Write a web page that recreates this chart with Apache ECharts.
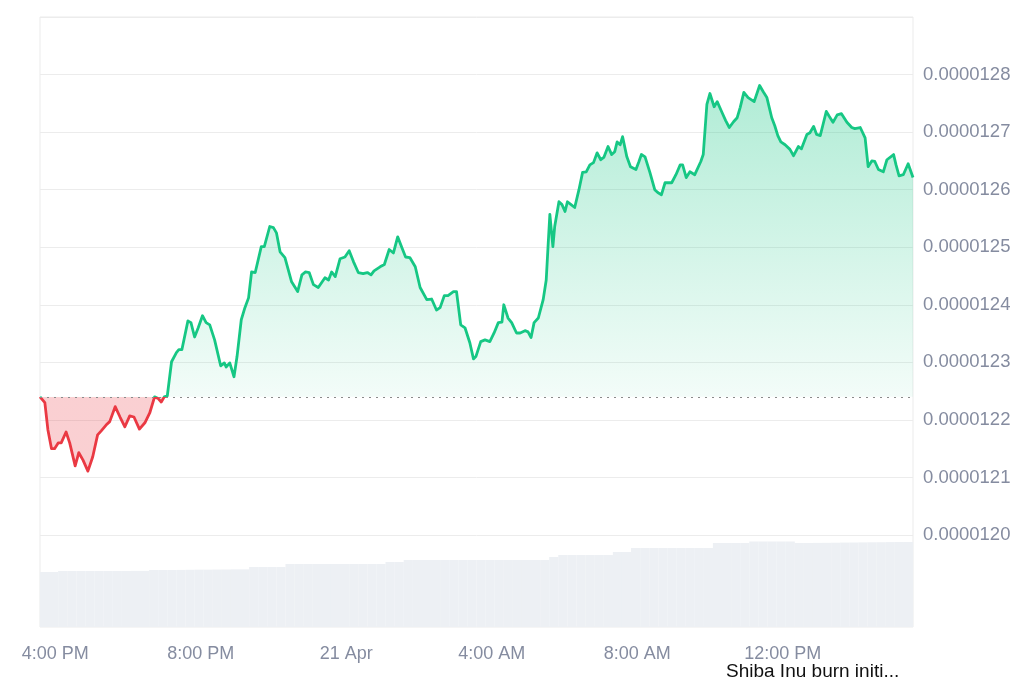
<!DOCTYPE html>
<html><head><meta charset="utf-8">
<script src="https://cdn.jsdelivr.net/npm/echarts@6/dist/echarts.min.js"></script>
<style>html,body{margin:0;padding:0;background:#fff}#c{width:1024px;height:683px}</style>
</head><body><div id="c"></div>
<script>
// ---- data ----
const startTime = '2025-04-20T15:35:00Z';
const endMinutes = 1440;
const minutesFromStart = [
  0,3,8,13,19,24,30,35,43,49,
  58,64,71,79,87,95,101,109,115,124,
  132,140,148,155,164,173,181,189,195,200,
  205,210,217,225,229,234,244,249,255,261,
  268,274,280,288,298,304,307,313,320,325,
  332,338,344,349,355,365,370,379,385,390,
  396,404,415,425,432,438,444,451,459,470,
  476,481,487,495,503,510,517,525,533,540,
  546,551,561,568,576,583,590,597,603,610,
  619,627,638,646,654,660,667,673,682,687,
  694,701,709,715,719,727,734,742,749,756,
  762,765,772,778,786,792,800,805,810,815,
  822,830,835,838,841,846,849,856,861,866,
  870,876,882,889,895,901,907,913,919,925,
  930,937,943,948,952,957,961,968,974,983,
  988,992,998,1006,1014,1019,1025,1031,1042,1049,
  1056,1060,1066,1072,1080,1090,1094,1100,1105,1112,
  1117,1125,1131,1137,1144,1150,1155,1161,1168,1178,
  1187,1193,1199,1207,1212,1217,1222,1229,1237,1243,
  1251,1256,1265,1270,1276,1281,1287,1292,1297,1302,
  1308,1315,1322,1331,1339,1344,1353,1361,1366,1372,
  1377,1383,1391,1397,1408,1412,1417,1424,1432,1440
];
const prices = [
  1.2240e-5,1.2238e-5,1.2230e-5,1.2183e-5,1.2150e-5,1.2150e-5,1.2160e-5,1.2160e-5,1.2179e-5,1.2160e-5,
  1.2120e-5,1.2143e-5,1.2130e-5,1.2111e-5,1.2136e-5,1.2174e-5,1.2181e-5,1.2191e-5,1.2197e-5,1.2223e-5,
  1.2205e-5,1.2188e-5,1.2207e-5,1.2205e-5,1.2184e-5,1.2195e-5,1.2212e-5,1.2240e-5,1.2237e-5,1.2231e-5,
  1.2240e-5,1.2242e-5,1.2301e-5,1.2317e-5,1.2322e-5,1.2322e-5,1.2372e-5,1.2369e-5,1.2344e-5,1.2360e-5,
  1.2381e-5,1.2369e-5,1.2365e-5,1.2339e-5,1.2294e-5,1.2299e-5,1.2292e-5,1.2299e-5,1.2275e-5,1.2310e-5,
  1.2374e-5,1.2395e-5,1.2412e-5,1.2457e-5,1.2456e-5,1.2501e-5,1.2501e-5,1.2536e-5,1.2534e-5,1.2525e-5,
  1.2492e-5,1.2482e-5,1.2440e-5,1.2423e-5,1.2452e-5,1.2457e-5,1.2456e-5,1.2435e-5,1.2430e-5,1.2447e-5,
  1.2443e-5,1.2457e-5,1.2449e-5,1.2480e-5,1.2483e-5,1.2494e-5,1.2475e-5,1.2456e-5,1.2454e-5,1.2456e-5,
  1.2452e-5,1.2459e-5,1.2466e-5,1.2470e-5,1.2496e-5,1.2490e-5,1.2518e-5,1.2499e-5,1.2483e-5,1.2482e-5,
  1.2466e-5,1.2430e-5,1.2409e-5,1.2410e-5,1.2391e-5,1.2395e-5,1.2416e-5,1.2416e-5,1.2423e-5,1.2423e-5,
  1.2365e-5,1.2360e-5,1.2334e-5,1.2306e-5,1.2310e-5,1.2336e-5,1.2339e-5,1.2336e-5,1.2351e-5,1.2369e-5,
  1.2370e-5,1.2400e-5,1.2377e-5,1.2369e-5,1.2351e-5,1.2351e-5,1.2355e-5,1.2353e-5,1.2343e-5,1.2369e-5,
  1.2377e-5,1.2409e-5,1.2443e-5,1.2501e-5,1.2557e-5,1.2501e-5,1.2536e-5,1.2579e-5,1.2574e-5,1.2562e-5,
  1.2579e-5,1.2574e-5,1.2569e-5,1.2600e-5,1.2630e-5,1.2631e-5,1.2643e-5,1.2647e-5,1.2664e-5,1.2652e-5,
  1.2656e-5,1.2675e-5,1.2661e-5,1.2666e-5,1.2683e-5,1.2678e-5,1.2692e-5,1.2657e-5,1.2640e-5,1.2635e-5,
  1.2649e-5,1.2661e-5,1.2657e-5,1.2630e-5,1.2600e-5,1.2595e-5,1.2591e-5,1.2612e-5,1.2612e-5,1.2626e-5,
  1.2643e-5,1.2643e-5,1.2621e-5,1.2631e-5,1.2626e-5,1.2649e-5,1.2661e-5,1.2748e-5,1.2767e-5,1.2744e-5,
  1.2753e-5,1.2734e-5,1.2720e-5,1.2708e-5,1.2718e-5,1.2725e-5,1.2743e-5,1.2769e-5,1.2760e-5,1.2753e-5,
  1.2781e-5,1.2770e-5,1.2760e-5,1.2725e-5,1.2711e-5,1.2694e-5,1.2683e-5,1.2678e-5,1.2670e-5,1.2659e-5,
  1.2675e-5,1.2671e-5,1.2696e-5,1.2699e-5,1.2710e-5,1.2696e-5,1.2694e-5,1.2715e-5,1.2736e-5,1.2727e-5,
  1.2717e-5,1.2730e-5,1.2732e-5,1.2717e-5,1.2708e-5,1.2706e-5,1.2708e-5,1.2690e-5,1.2640e-5,1.2650e-5,
  1.2649e-5,1.2635e-5,1.2631e-5,1.2652e-5,1.2661e-5,1.2643e-5,1.2624e-5,1.2626e-5,1.2645e-5,1.2621e-5
];
const baselinePrice = 1.2240e-5;
const volumeStepMinutes = 15;
const volumes = [
  90.2,90.2,91.8,91.8,91.8,91.8,91.8,91.8,91.8,91.8,
  92.0,92.0,93.4,93.4,93.4,93.6,93.8,94.0,94.0,94.2,
  94.3,94.5,94.5,98.4,98.4,98.4,98.4,103.3,103.3,103.3,
  103.3,103.3,103.3,103.3,103.3,103.3,103.3,103.3,106.6,106.6,
  109.8,109.8,109.8,109.8,109.8,109.8,109.8,109.8,109.8,109.8,
  109.8,109.8,109.8,109.8,109.8,109.8,114.8,118.0,118.0,118.0,
  118.0,118.0,118.0,123.0,123.0,129.5,129.5,129.5,129.5,129.5,
  129.5,129.5,129.5,129.5,137.7,137.7,137.7,137.7,140.2,140.2,
  140.2,140.2,140.2,137.7,137.7,137.9,138.0,138.2,138.4,138.5,
  138.7,138.9,139.0,139.2,139.3,139.3
];
const xTickHoursFromApr20 = [16, 20, 24, 28, 32, 36];
const xTickLabels = ['4:00 PM', '8:00 PM', '21 Apr', '4:00 AM', '8:00 AM', '12:00 PM'];
const newsLabel = 'Shiba Inu burn initi...';

// ---- chart ----
const UNIT = 1e-7; // price axis works in units of 0.0000001
const t0 = Date.parse(startTime);
const dayStart = Date.parse('2025-04-20T00:00:00Z');
const xTickMinutes = xTickHoursFromApr20.map(h => (dayStart + h * 3600000 - t0) / 60000);
const priceData = minutesFromStart.map((m, i) => [m, prices[i] / UNIT]);
const volData = volumes.map((v, i) => [(i + 0.5) * volumeStepMinutes, v]);
const base = baselinePrice / UNIT;

const FONT = 'Liberation Sans, Arial, Helvetica, sans-serif';
const LABEL_COLOR = '#858ca0';
const GREEN = '#16c784', RED = '#ea3943';

const chart = echarts.init(document.getElementById('c'), null, {renderer: 'canvas'});
const baseOption = {
  animation: false,
  backgroundColor: '#fff',
  grid: [
    {left: 40, right: 111, top: 17, height: 518, show: false},
    {left: 40, right: 111, top: 17, bottom: 56, show: true, borderColor: '#ebebeb', borderWidth: 1}
  ],
  xAxis: [
    {type: 'value', gridIndex: 0, min: 0, max: endMinutes, show: false},
    {type: 'value', gridIndex: 1, min: 0, max: endMinutes,
     axisLine: {show: false}, axisTick: {show: false}, splitLine: {show: false},
     axisLabel: {
       customValues: xTickMinutes,
       formatter: v => { const i = xTickMinutes.findIndex(m => Math.abs(m - v) < 0.5); return i >= 0 ? xTickLabels[i] : ''; },
       color: LABEL_COLOR, fontSize: 18, fontFamily: FONT, margin: 18
     }}
  ],
  yAxis: [
    {type: 'value', gridIndex: 0, position: 'right', min: 120, max: 129, interval: 1,
     axisLine: {show: false}, axisTick: {show: false},
     splitLine: {lineStyle: {color: '#ececec', width: 1}},
     axisLabel: {
       formatter: v => v > 128.5 ? '' : (v * UNIT).toFixed(7),
       color: LABEL_COLOR, fontSize: 18.5, fontFamily: FONT, margin: 10
     }},
    {type: 'value', gridIndex: 1, min: 0, max: 1000, show: false}
  ],
  series: [
    {type: 'bar', xAxisIndex: 1, yAxisIndex: 1, data: volData, barWidth: 9.2,
     itemStyle: {color: '#edf0f4'}, z: 1, silent: true},
    {type: 'line', xAxisIndex: 0, yAxisIndex: 0, data: priceData,
     symbol: 'none', showSymbol: false, z: 3,
     lineStyle: {width: 2.8, join: 'round', color: GREEN},
     areaStyle: {origin: base, opacity: 1, color: 'rgba(22,199,132,0.15)'},
     markLine: {silent: true, symbol: 'none', label: {show: false},
       lineStyle: {type: [2, 5], color: '#8a8a8a', width: 1.2},
       data: [{yAxis: base}]}
    }
  ],
  graphic: [{type: 'text', left: 726, top: 662,
    style: {text: newsLabel, fill: '#111', font: '19px ' + FONT}}]
};
chart.setOption(baseOption);

const yTop = chart.convertToPixel({yAxisIndex: 0}, 129);
const yBase = chart.convertToPixel({yAxisIndex: 0}, base);
const yBot = chart.convertToPixel({yAxisIndex: 0}, 120);
const f = (yBase - yTop) / (yBot - yTop);
chart.setOption({
  series: [{}, {
    lineStyle: {color: new echarts.graphic.LinearGradient(0, yTop, 0, yBot, [
      {offset: 0, color: GREEN}, {offset: f, color: GREEN},
      {offset: f, color: RED}, {offset: 1, color: RED}
    ], true)},
    areaStyle: {color: new echarts.graphic.LinearGradient(0, yTop, 0, yBot, [
      {offset: 0, color: 'rgba(22,199,132,0.40)'},
      {offset: f, color: 'rgba(22,199,132,0.05)'},
      {offset: f, color: 'rgba(234,57,67,0.24)'},
      {offset: 1, color: 'rgba(234,57,67,0.24)'}
    ], true)}
  }]
});
</script></body></html>
